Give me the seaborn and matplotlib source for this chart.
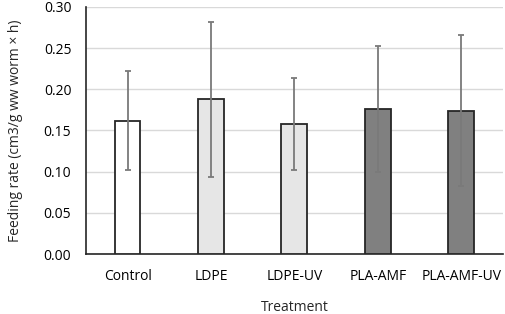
import matplotlib
matplotlib.use('Agg')
import matplotlib.pyplot as plt
import seaborn as sns
import pandas as pd

# values
treatments = ['Control', 'LDPE', 'LDPE-UV', 'PLA-AMF', 'PLA-AMF-UV']
feeding_rate = [0.162, 0.188, 0.158, 0.176, 0.174]
sd = [0.060, 0.094, 0.056, 0.077, 0.092]
bar_colors = ['#ffffff', '#e6e6e6', '#e6e6e6', '#808080', '#808080']
y_ticks = [0.00, 0.05, 0.10, 0.15, 0.20, 0.25, 0.30]

df = pd.DataFrame({'Treatment': treatments, 'rate': feeding_rate, 'sd': sd})

sns.set_style('white')
plt.rcParams['font.family'] = ['Open Sans', 'DejaVu Sans']

fig = plt.figure(figsize=(5.05, 3.14), dpi=100)
ax = fig.add_axes([0.170, 0.191, 0.826, 0.787])

sns.barplot(data=df, x='Treatment', y='rate', hue='Treatment',
            palette=bar_colors, legend=False, width=0.31,
            edgecolor='#262626', linewidth=1.3, ax=ax, zorder=3)
ax.errorbar(x=range(len(df)), y=df['rate'], yerr=df['sd'], fmt='none',
            ecolor='#7a7a7a', elinewidth=1.3, capsize=2.2, capthick=1.3, zorder=4)

ax.set_ylim(0, 0.30)
ax.set_xlim(-0.5, len(df) - 0.5)
ax.set_yticks(y_ticks)
ax.set_yticklabels([f'{t:.2f}' for t in y_ticks])
ax.yaxis.grid(True, color='#d9d9d9', linewidth=1, zorder=0)
ax.set_axisbelow(True)
ax.tick_params(axis='y', length=0, labelsize=10, colors='#000000', pad=10.5)
ax.tick_params(axis='x', length=0, labelsize=10, colors='#000000', pad=11)

for side in ['top', 'right']:
    ax.spines[side].set_visible(False)
for side in ['left', 'bottom']:
    ax.spines[side].set_color('#262626')
    ax.spines[side].set_linewidth(1.2)

ax.set_xlabel('Treatment', fontsize=10, labelpad=11)
ax.set_ylabel('Feeding rate (cm3/g ww worm × h)', fontsize=10, labelpad=15)

fig.savefig('out.png', dpi=100)
